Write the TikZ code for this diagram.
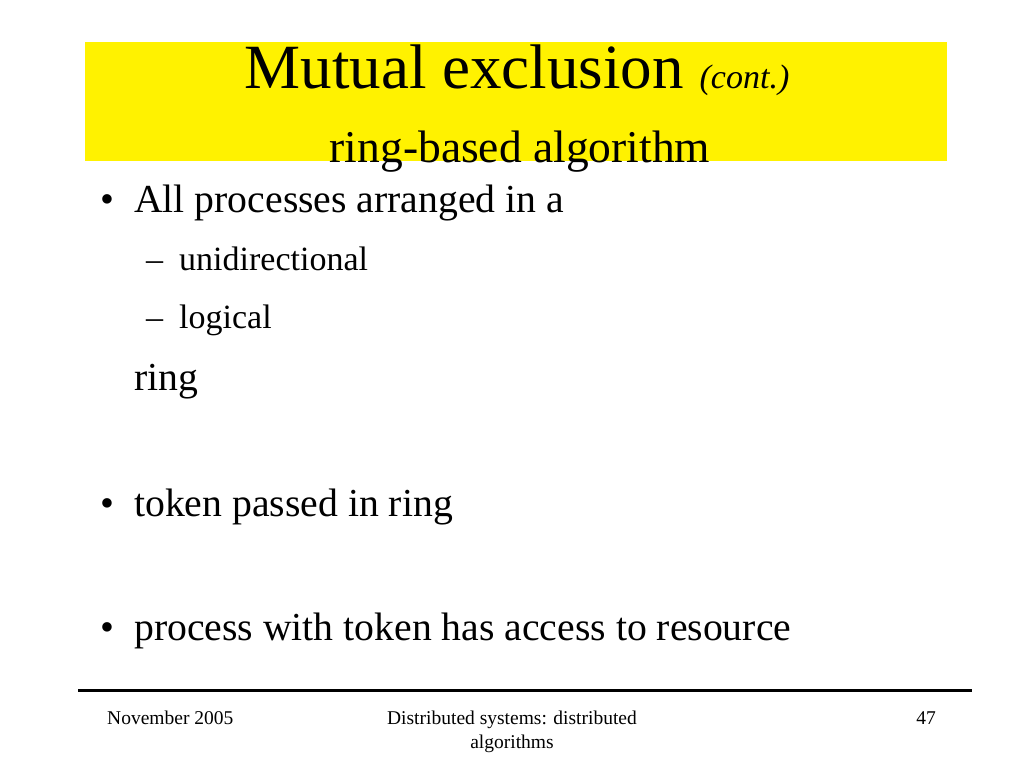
\documentclass[tikz,border=0pt]{standalone}
\usepackage{fontspec}
\setmainfont{Liberation Serif}
\begin{document}
\begin{tikzpicture}[x=1pt,y=-1pt,
  txt/.style={anchor=base west,inner sep=0pt},
  big/.style={font=\fontsize{39.7}{44}\selectfont},
  sub/.style={font=\fontsize{34}{38}\selectfont},
  foot/.style={font=\fontsize{19.5}{24}\selectfont,inner sep=0pt}]
\useasboundingbox[fill=white] (0,0) rectangle (1024,768);
\fill[yellow] (85,42) rectangle (947,161);
\node[txt,anchor=base] (t1) at (517,88) {\fontsize{63}{66}\selectfont Mutual exclusion \fontsize{34}{38}\selectfont\itshape (cont.)};
\node[txt,anchor=base] (t2) at (520,162) {\fontsize{45.5}{50}\selectfont ring-based algorithm};
\node[txt,big] (b1) at (100,212) {•};
\node[txt,big] (l1) at (134,212) {All processes arranged in a};
\node[txt,sub] (d1) at (146,270) {–};
\node[txt,sub] (s1) at (179,270) {unidirectional};
\node[txt,sub] (d2) at (146,328) {–};
\node[txt,sub] (s2) at (179,328) {logical};
\node[txt,big] (l2) at (134,390) {ring};
\node[txt,big] (b2) at (100,516) {•};
\node[txt,big] (l3) at (134,516) {token passed in ring};
\node[txt,big] (b3) at (100,640) {•};
\node[txt,big] (l4) at (134,640) {process with token has access to resource};
\draw[line width=3] (78,690) -- (972,690);
\node[foot,anchor=base west] (f1) at (107,724) {November 2005};
\node[foot,anchor=base] (f2) at (512,724) {Distributed systems: distributed};
\node[foot,anchor=base] (f3) at (512,748) {algorithms};
\node[foot,anchor=base east] (f4) at (936,724) {47};
\end{tikzpicture}
\end{document}
